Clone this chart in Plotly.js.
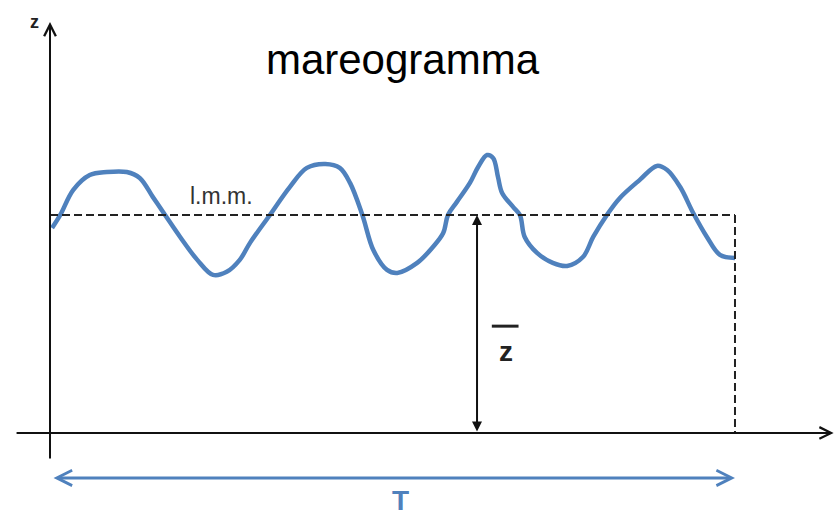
<!DOCTYPE html>
<html>
<head>
<meta charset="utf-8">
<script src="https://cdn.plot.ly/plotly-3.0.1.min.js"></script>
<style>
  html, body { margin: 0; padding: 0; background: #fff; }
  #chart { width: 835px; height: 518px; }
</style>
</head>
<body>
<div id="chart"></div>
<script>
// Tide record (mareogramma): time t over one period T, sea level z
const timeT = [0.3, 1.5, 3.4, 5.8, 8.3, 11.2, 13.1, 15.0, 16.8, 19.0, 21.5, 23.8, 25.8, 27.7,
  29.2, 32.1, 35.0, 37.5, 40.2, 42.3, 43.8, 45.6, 47.2, 49.2, 50.7, 53.6, 55.9, 57.4,
  58.1, 59.4, 61.3, 62.5, 63.8, 64.7, 65.4, 66.0, 67.6, 68.6, 69.3, 71.1, 73.4, 75.5,
  77.8, 79.3, 81.3, 83.2, 86.1, 88.6, 90.1, 92.0, 93.9, 95.9, 97.8, 100.0];
const levelZ = [9.40, 10.0, 11.15, 11.83, 11.97, 11.97, 11.70, 10.83, 10.0, 8.99, 7.94, 7.25, 7.39, 7.94,
  8.72, 10.0, 11.28, 12.16, 12.34, 12.16, 11.47, 10.0, 8.39, 7.48, 7.34, 7.80, 8.53, 9.17,
  10.0, 10.60, 11.47, 12.20, 12.75, 12.61, 11.74, 11.01, 10.37, 10.0, 8.99, 8.26, 7.80, 7.66,
  8.07, 8.99, 10.0, 10.78, 11.61, 12.25, 12.06, 11.28, 10.09, 8.99, 8.17, 8.03];

const meanLevel = 10;      // l.m.m. (livello medio mare) = z̄
const periodT = 100;       // record length T
const labels = { title: 'mareogramma', lmm: 'l.m.m.', zbar: 'z', axisZ: 'z', period: 'T' };

const blue = '#4f81bd';
const ink = '#111';
const font = 'Liberation Sans, Arial, sans-serif';

// frame of the drawing in data units
const xRange = [-7.3, 114.6];
const yRange = [-3.9, 19.86];
const zAxisTop = 18.85, zAxisBottom = -1.24;
const tAxisLeft = -5.1, tAxisRight = 114.4;
const arrowRowT = -2.06;
const zbarT = 62.34;

const traces = [{
  x: timeT,
  y: levelZ,
  type: 'scatter',
  mode: 'lines',
  line: { color: blue, width: 4.5, shape: 'spline', smoothing: 1 },
  hoverinfo: 'skip'
}];

function arrow(x, y, ax, ay, opts) {
  return Object.assign({
    x: x, y: y, ax: ax, ay: ay, xref: 'x', yref: 'y', axref: 'x', ayref: 'y',
    text: '', showarrow: true, standoff: 0, startstandoff: 0,
    arrowcolor: ink, arrowwidth: 2, arrowhead: 5, arrowsize: 1.15
  }, opts || {});
}

const annotations = [
  // z axis and t axis
  arrow(0, zAxisTop, 0, zAxisBottom),
  arrow(tAxisRight, 0, tAxisLeft, 0),
  // z̄ double arrow from the t axis up to the mean level
  arrow(zbarT, meanLevel, zbarT, 0, { arrowside: 'end+start', arrowhead: 2, arrowsize: 1 }),
  // period T
  arrow(periodT, arrowRowT, 0.3, arrowRowT, { arrowside: 'end+start', arrowcolor: blue, arrowwidth: 3, arrowsize: 1 }),
  // texts
  { x: -2.3, y: 18.85, xref: 'x', yref: 'y', text: '<b>' + labels.axisZ + '</b>', showarrow: false,
    font: { family: font, size: 18, color: '#222' } },
  { x: 25.1, y: 10.85, xref: 'x', yref: 'y', text: labels.lmm, showarrow: false,
    font: { family: font, size: 23, color: '#333' } },
  { x: 66.5, y: 3.75, xref: 'x', yref: 'y', text: '<b>' + labels.zbar + '</b>', showarrow: false,
    font: { family: font, size: 28, color: '#222' } },
  { x: 51.1, y: -3.1, xref: 'x', yref: 'y', text: '<b>' + labels.period + '</b>', showarrow: false,
    font: { family: font, size: 28, color: blue } }
];

const shapes = [
  // mean sea level, then down to the t axis at t = T
  { type: 'line', xref: 'x', yref: 'y', x0: 0, y0: meanLevel, x1: periodT, y1: meanLevel,
    line: { color: '#222', width: 2, dash: '8px,4px' } },
  { type: 'line', xref: 'x', yref: 'y', x0: periodT, y0: meanLevel, x1: periodT, y1: 0,
    line: { color: '#222', width: 2, dash: '8px,4px' } },
  // bar over the z̄ symbol
  { type: 'line', xref: 'x', yref: 'y', x0: 64.5, y0: 4.9, x1: 68.4, y1: 4.9,
    line: { color: '#222', width: 3 } }
];

const layout = {
  width: 835, height: 518,
  margin: { l: 0, r: 0, t: 0, b: 0 },
  paper_bgcolor: '#fff', plot_bgcolor: '#fff',
  showlegend: false,
  title: { text: labels.title, x: 0.482, y: 0.885, xanchor: 'center', yanchor: 'middle',
    font: { family: font, size: 42, color: '#000' } },
  xaxis: { range: xRange, visible: false, fixedrange: true },
  yaxis: { range: yRange, visible: false, fixedrange: true },
  annotations: annotations,
  shapes: shapes
};

Plotly.newPlot('chart', traces, layout, { staticPlot: true, displayModeBar: false });
</script>
</body>
</html>
